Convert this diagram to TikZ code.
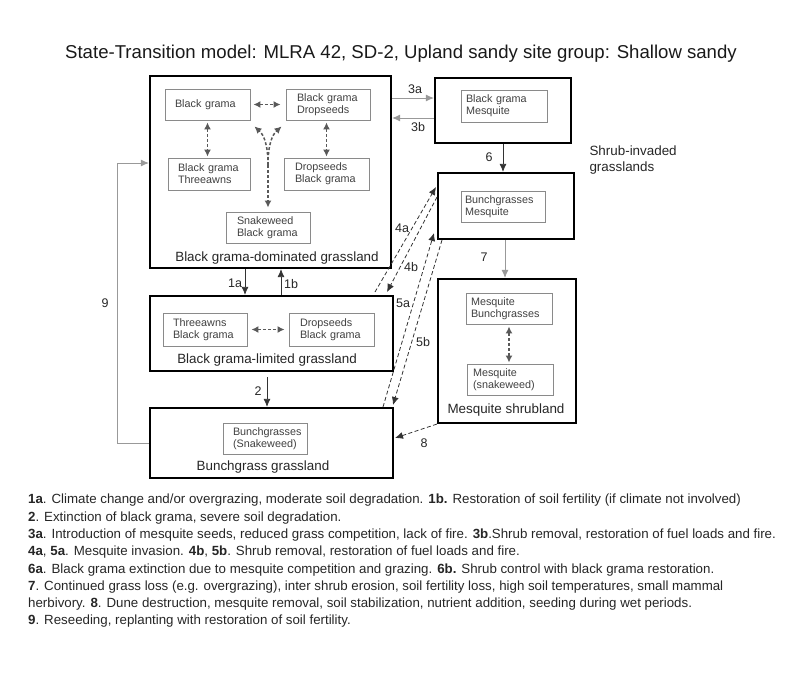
\documentclass[tikz,border=0pt]{standalone}
\usepackage{fontspec}
\setmainfont{Liberation Sans}
\usetikzlibrary{arrows.meta,calc}
\definecolor{ibord}{HTML}{8A8A8A}
\definecolor{itext}{HTML}{404040}
\tikzset{
  bigbox/.style={draw=black, line width=2.2pt},
  ibox/.style={draw=ibord, line width=0.9pt, text=itext, font=\fontsize{10.8}{12}\selectfont, align=left, inner ysep=0pt, inner xsep=10pt, minimum height=31pt, anchor=center},
  boxlabel/.style={font=\fontsize{13.4}{15.5}\selectfont, text=black!85},
  tlabel/.style={font=\fontsize{12.5}{14}\selectfont, text=black!85},
  tr/.style={draw=black!80, line width=0.8pt, -{Latex[length=8pt,width=7pt]}},
  trg/.style={draw=black!40, line width=0.9pt, -{Latex[length=8pt,width=7pt]}},
  trd/.style={draw=black!80, line width=0.8pt, dash pattern=on 4pt off 2.5pt, -{Latex[length=8pt,width=7pt]}},
  inarr/.style={draw=black!65, line width=1.5pt, dash pattern=on 3pt off 2pt, {Latex[length=7pt,width=7pt]}-{Latex[length=7pt,width=7pt]}},
  inarr1/.style={draw=black!65, line width=1.5pt, dash pattern=on 3pt off 2pt, -{Latex[length=7pt,width=7pt]}},
}
\begin{document}
\begin{tikzpicture}[x=1pt,y=-1pt]
\useasboundingbox (0,0) rectangle (800,675);
% title
\node[font=\fontsize{18.6}{21}\selectfont, text=black!90] (title) at (401,54) {State-Transition model: MLRA 42, SD-2, Upland sandy site group: Shallow sandy};

% big boxes
\node[bigbox, minimum width=241pt, minimum height=192pt] (bgd) at (270.5,172) {};
\node[bigbox, minimum width=136pt, minimum height=65pt] (bm) at (503,110.5) {};
\node[bigbox, minimum width=136pt, minimum height=66pt] (bmq) at (506,206) {};
\node[bigbox, minimum width=138pt, minimum height=144pt] (ms) at (507,351) {};
\node[bigbox, minimum width=243pt, minimum height=75pt] (bgl) at (271.5,333.5) {};
\node[bigbox, minimum width=243pt, minimum height=70pt] (bg) at (271.5,443) {};

% inner boxes
\node[ibox, text width=65pt] (i1) at (207.5,104.5) {Black grama};
\node[ibox, text width=62pt, inner xsep=11pt] (i2) at (328,104.5) {Black grama\\Dropseeds};
\node[ibox, text width=62pt, minimum height=32pt] (i3) at (209,174) {Black grama\\Threeawns};
\node[ibox, text width=63pt, inner xsep=11pt, minimum height=32pt] (i4) at (326.5,174) {Dropseeds\\Black grama};
\node[ibox, text width=62pt, inner xsep=11pt] (i5) at (268,227.5) {Snakeweed\\Black grama};
\node[ibox, text width=76pt, inner xsep=5pt, minimum height=32pt] (i6) at (504,106) {Black grama\\Mesquite};
\node[ibox, text width=76pt, inner xsep=4pt] (i7) at (503,206.5) {Bunchgrasses\\Mesquite};
\node[ibox, text width=76pt, inner xsep=5pt] (i8) at (509,308.5) {Mesquite\\Bunchgrasses};
\node[ibox, text width=74pt, inner xsep=6pt] (i9) at (510,379.5) {Mesquite\\(snakeweed)};
\node[ibox, text width=64pt, minimum height=33pt] (i10) at (205,329.5) {Threeawns\\Black grama};
\node[ibox, text width=63pt, inner xsep=11pt, minimum height=33pt] (i11) at (331.5,329.5) {Dropseeds\\Black grama};
\node[ibox, text width=64pt] (i12) at (265,438.5) {Bunchgrasses\\(Snakeweed)};

% box labels
\node[boxlabel] (lbgd) at (277,258) {Black grama-dominated grassland};
\node[boxlabel] (lbgl) at (267,360) {Black grama-limited grassland};
\node[boxlabel] (lbg) at (263,467) {Bunchgrass grassland};
\node[boxlabel] (lms) at (506,410) {Mesquite shrubland};
\node[boxlabel, align=left, anchor=west] (lsi) at (586,160) {Shrub-invaded\\grasslands};

% inner arrows
\draw[inarr, shorten <=3pt, shorten >=5pt] (i1.east) -- (i2.west);
\draw[inarr, shorten <=2pt, shorten >=1pt] (i1.south) -- (i1.south |- i3.north);
\draw[inarr, shorten <=2pt, shorten >=1pt] (i4.north |- i2.south) -- (i4.north);
\coordinate (ym) at (268,165);
\draw[inarr1] (ym) .. controls (268,145) and (264,135) .. ($(i1.south east)+(4,6)$);
\draw[inarr1] (ym) .. controls (268,145) and (272,135) .. ($(i2.south west)+(-4,6)$);
\draw[inarr1, shorten >=4pt] (ym) -- (i5.north);
\draw[inarr, shorten <=2pt, shorten >=1pt] (i8.south) -- (i8.south |- i9.north);
\draw[inarr, shorten <=4pt, shorten >=4pt] (i10.east) -- (i11.west);

% transitions
\coordinate (x1a) at (245,0);
\coordinate (x1b) at (281,0);
\coordinate (x2) at (267,0);
\coordinate (x6) at (503,0);
\coordinate (x7) at (505,0);
\coordinate (y3a) at (0,98);
\coordinate (y3b) at (0,118);
\coordinate (y9) at (0,163);
\draw[tr] (bgd.south -| x1a) -- (bgl.north -| x1a);
\draw[tr] (bgl.north -| x1b) -- (bgd.south -| x1b);
\draw[tr, shorten <=5pt] (bgl.south -| x2) -- (bg.north -| x2);
\draw[trg] (bgd.east |- y3a) -- (bm.west |- y3a);
\draw[trg] (bm.west |- y3b) -- (bgd.east |- y3b);
\draw[tr] (bm.south -| x6) -- (bmq.north -| x6);
\draw[trg] (bmq.south -| x7) -- (ms.north -| x7);

\coordinate (a4s) at (375,292);
\coordinate (a4e) at (436,187);
\coordinate (b4s) at (437,197);
\coordinate (b4e) at (387,292);
\coordinate (a5s) at (383,407);
\coordinate (a5e) at (434,233);
\coordinate (b5s) at (442,240);
\coordinate (b5e) at (393,405);
\draw[trd] (a4s) -- (a4e);
\draw[trd] (b4s) -- (b4e);
\draw[trd] (a5s) -- (a5e);
\draw[trd] (b5s) -- (b5e);
\coordinate (e8) at (395,438);
\draw[trd] (ms.south west) -- (e8);
\coordinate (c9) at (117,0);
\draw[trg] (bg.west) -- (bg.west -| c9) -- (c9 |- y9) -- (bgd.west |- y9);

% transition labels
\node[tlabel] (t1a) at (235,283) {1a};
\node[tlabel] (t1b) at (291,284) {1b};
\node[tlabel] (t2) at (258,391) {2};
\node[tlabel] (t3a) at (415,89) {3a};
\node[tlabel] (t3b) at (418,127) {3b};
\node[tlabel] (t4a) at (402,228) {4a};
\node[tlabel] (t4b) at (411,267) {4b};
\node[tlabel] (t5a) at (403,303) {5a};
\node[tlabel] (t5b) at (423,342) {5b};
\node[tlabel] (t6) at (489,157) {6};
\node[tlabel] (t7) at (484,257) {7};
\node[tlabel] (t8) at (424,443) {8};
\node[tlabel] (t9) at (105,303) {9};

% legend
\node[anchor=north west, align=left, inner sep=0pt, font=\fontsize{13.3}{17.3}\selectfont, text=black!85] (legend) at (28,494) {%
\textbf{1a}. Climate change and/or overgrazing, moderate soil degradation. \textbf{1b.} Restoration of soil fertility (if climate not involved)\\
\textbf{2}. Extinction of black grama, severe soil degradation.\\
\textbf{3a}. Introduction of mesquite seeds, reduced grass competition, lack of fire. \textbf{3b}.Shrub removal, restoration of fuel loads and fire.\\
\textbf{4a}, \textbf{5a}. Mesquite invasion. \textbf{4b}, \textbf{5b}. Shrub removal, restoration of fuel loads and fire.\\
\textbf{6a}. Black grama extinction due to mesquite competition and grazing. \textbf{6b.} Shrub control with black grama restoration.\\
\textbf{7}. Continued grass loss (e.g. overgrazing), inter shrub erosion, soil fertility loss, high soil temperatures, small mammal\\
herbivory. \textbf{8}. Dune destruction, mesquite removal, soil stabilization, nutrient addition, seeding during wet periods.\\
\textbf{9}. Reseeding, replanting with restoration of soil fertility.};
\end{tikzpicture}
\end{document}
